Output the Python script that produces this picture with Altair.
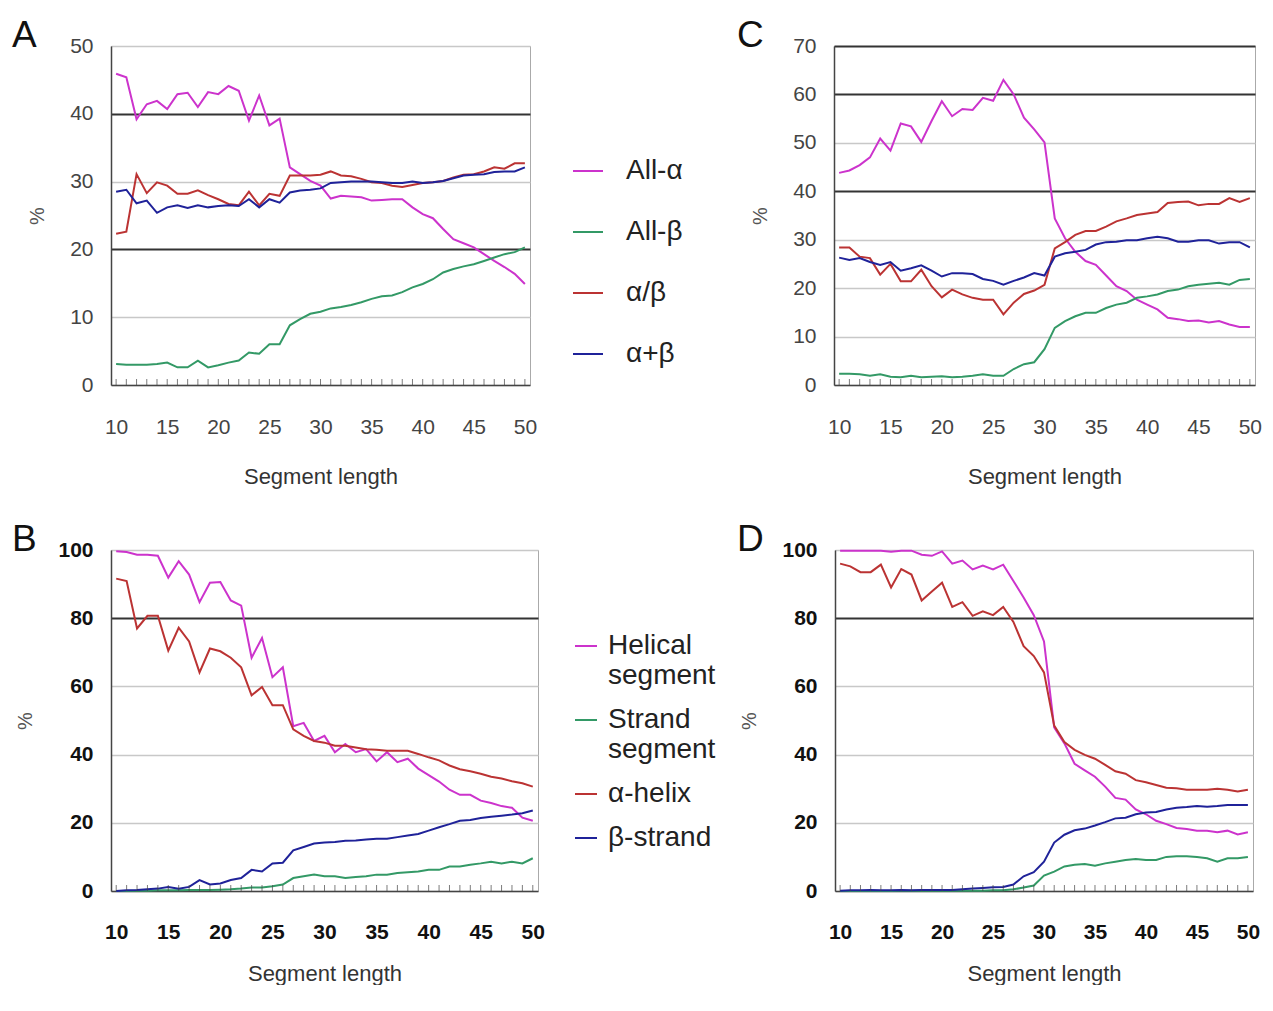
import altair as alt
import pandas as pd

lengths = list(range(10, 51))
tick_positions = list(range(10, 51))
x_labels = [10, 15, 20, 25, 30, 35, 40, 45, 50]

# ---------------- Panel A ----------------
a_names = ["All-α", "All-β", "α/β", "α+β"]
a_all_alpha = [45.9, 45.4, 39.2, 41.4, 41.9, 40.7, 42.9, 43.1, 41.0, 43.2, 42.9, 44.1, 43.4, 39.0,
               42.7, 38.3, 39.3, 32.1, 31.1, 30.1, 29.4, 27.5, 27.9, 27.8, 27.7, 27.2, 27.3, 27.4,
               27.4, 26.2, 25.2, 24.6, 23.0, 21.5, 20.9, 20.3, 19.3, 18.3, 17.4, 16.4, 14.9]
a_all_beta = [3.1, 3.0, 3.0, 3.0, 3.1, 3.3, 2.6, 2.6, 3.6, 2.6, 2.9, 3.3, 3.6, 4.8, 4.6, 6.0, 6.0,
              8.8, 9.7, 10.5, 10.8, 11.3, 11.5, 11.8, 12.2, 12.7, 13.1, 13.2, 13.7, 14.4, 14.9, 15.6,
              16.6, 17.1, 17.5, 17.8, 18.3, 18.8, 19.3, 19.6, 20.3]
a_alpha_beta = [22.3, 22.6, 31.1, 28.3, 29.9, 29.4, 28.2, 28.2, 28.7, 28.0, 27.4, 26.7, 26.5, 28.5,
                26.5, 28.2, 27.9, 30.9, 30.9, 30.9, 31.0, 31.5, 30.9, 30.8, 30.4, 29.9, 29.8, 29.4,
                29.2, 29.5, 29.8, 29.9, 30.1, 30.6, 31.0, 31.1, 31.5, 32.1, 31.9, 32.7, 32.7]
a_alpha_plus_beta = [28.5, 28.8, 26.8, 27.2, 25.4, 26.2, 26.5, 26.1, 26.5, 26.2, 26.4, 26.5, 26.4,
                     27.4, 26.2, 27.4, 26.9, 28.4, 28.7, 28.8, 29.0, 29.8, 29.9, 30.0, 30.0, 30.0,
                     29.9, 29.8, 29.8, 30.0, 29.8, 29.9, 30.1, 30.5, 30.9, 31.0, 31.1, 31.4, 31.5,
                     31.5, 32.1]

# ---------------- Panel C ----------------
c_all_alpha = [43.8, 44.3, 45.4, 47.0, 50.9, 48.4, 54.0, 53.4, 50.2, 54.5, 58.6, 55.5, 57.0, 56.8,
               59.3, 58.7, 63.0, 60.0, 55.2, 52.8, 50.1, 34.4, 30.3, 27.5, 25.6, 24.8, 22.6, 20.4,
               19.4, 17.6, 16.6, 15.6, 13.9, 13.6, 13.2, 13.3, 12.9, 13.2, 12.5, 12.0, 12.0]
c_all_beta = [2.3, 2.3, 2.2, 1.9, 2.2, 1.7, 1.6, 1.9, 1.6, 1.7, 1.8, 1.6, 1.7, 1.9, 2.2, 1.9, 1.9,
              3.3, 4.3, 4.7, 7.4, 11.8, 13.2, 14.2, 14.9, 14.9, 15.9, 16.6, 17.0, 18.0, 18.3, 18.7,
              19.4, 19.7, 20.4, 20.7, 20.9, 21.1, 20.7, 21.7, 21.9]
c_alpha_beta = [28.4, 28.4, 26.5, 26.2, 22.8, 25.0, 21.4, 21.4, 23.8, 20.4, 18.1, 19.7, 18.7, 18.0,
                17.6, 17.6, 14.6, 17.0, 18.8, 19.5, 20.7, 28.2, 29.5, 31.0, 31.8, 31.8, 32.7, 33.8,
                34.4, 35.1, 35.4, 35.7, 37.6, 37.8, 37.9, 37.1, 37.4, 37.4, 38.6, 37.8, 38.6]
c_alpha_plus_beta = [26.3, 25.8, 26.2, 25.4, 24.8, 25.4, 23.6, 24.1, 24.7, 23.6, 22.4, 23.1, 23.1,
                     22.9, 21.9, 21.5, 20.7, 21.5, 22.2, 23.1, 22.6, 26.5, 27.2, 27.5, 27.9, 29.0,
                     29.5, 29.6, 29.9, 29.9, 30.3, 30.6, 30.3, 29.6, 29.6, 29.9, 29.9, 29.2, 29.5,
                     29.5, 28.4]

# ---------------- Panel B ----------------
b_names = ["Helical segment", "Strand segment", "α-helix", "β-strand"]
b_helical = [99.6, 99.4, 98.6, 98.6, 98.3, 91.9, 96.7, 92.8, 84.7, 90.4, 90.6, 85.2, 83.7, 68.4,
             74.2, 62.7, 65.6, 48.3, 49.3, 44.0, 45.5, 40.7, 43.1, 40.7, 41.6, 38.0, 40.7, 37.8,
             38.8, 35.9, 34.0, 32.1, 29.7, 28.2, 28.2, 26.5, 25.8, 24.9, 24.4, 21.5, 20.6]
b_strand = [0.0, 0.0, 0.1, 0.1, 0.2, 0.2, 0.2, 0.3, 0.3, 0.3, 0.4, 0.5, 0.7, 1.0, 1.0, 1.4, 1.9,
            3.8, 4.3, 4.8, 4.3, 4.3, 3.8, 4.1, 4.3, 4.8, 4.8, 5.3, 5.5, 5.7, 6.2, 6.2, 7.2, 7.2,
            7.7, 8.1, 8.6, 8.1, 8.6, 8.1, 9.6]
b_alpha_helix = [91.6, 90.9, 77.0, 80.7, 80.7, 70.5, 77.2, 73.2, 64.1, 71.1, 70.3, 68.4, 65.6,
                 57.4, 59.8, 54.5, 54.5, 47.4, 45.5, 44.0, 43.5, 42.6, 42.6, 42.1, 41.6, 41.4,
                 41.1, 41.1, 41.1, 40.2, 39.2, 38.3, 36.8, 35.7, 35.1, 34.4, 33.5, 33.0, 32.2,
                 31.6, 30.6]
b_beta_strand = [0.0, 0.2, 0.3, 0.5, 0.7, 1.2, 0.7, 1.2, 3.2, 1.9, 2.2, 3.2, 3.8, 6.2, 5.7, 8.1,
                 8.3, 11.9, 12.9, 13.9, 14.2, 14.4, 14.7, 14.8, 15.1, 15.3, 15.3, 15.8, 16.3, 16.7,
                 17.7, 18.7, 19.6, 20.6, 20.8, 21.4, 21.8, 22.1, 22.4, 22.8, 23.6]

# ---------------- Panel D ----------------
d_helical = [99.8, 99.8, 99.8, 99.8, 99.8, 99.5, 99.8, 99.8, 98.6, 98.3, 99.6, 96.0, 96.9, 94.3,
             95.4, 94.3, 95.7, 90.9, 86.1, 80.9, 73.2, 48.0, 43.3, 37.3, 35.4, 33.5, 30.6, 27.3,
             26.8, 23.9, 22.5, 20.6, 19.6, 18.5, 18.2, 17.7, 17.7, 17.2, 17.7, 16.6, 17.2]
d_strand = [0.0, 0.0, 0.0, 0.0, 0.0, 0.0, 0.1, 0.1, 0.1, 0.1, 0.1, 0.1, 0.1, 0.1, 0.1, 0.2, 0.2,
            0.5, 1.0, 1.6, 4.5, 5.7, 7.2, 7.7, 7.9, 7.4, 8.1, 8.6, 9.1, 9.4, 9.1, 9.1, 10.0, 10.2,
            10.2, 10.0, 9.6, 8.6, 9.6, 9.6, 10.0]
d_alpha_helix = [96.0, 95.2, 93.5, 93.5, 95.7, 89.0, 94.4, 92.8, 85.2, 87.8, 90.4, 83.3, 84.7,
                 80.7, 82.0, 80.9, 83.3, 78.9, 71.8, 68.9, 64.1, 48.5, 43.7, 41.4, 39.9, 38.8,
                 37.0, 35.1, 34.4, 32.5, 31.9, 31.1, 30.3, 30.1, 29.7, 29.7, 29.7, 30.0, 29.7,
                 29.2, 29.7]
d_beta_strand = [0.1, 0.2, 0.2, 0.3, 0.2, 0.2, 0.3, 0.2, 0.3, 0.3, 0.3, 0.3, 0.5, 0.7, 0.9, 1.1,
                 1.2, 1.9, 4.3, 5.5, 8.6, 14.2, 16.5, 17.8, 18.3, 19.2, 20.2, 21.3, 21.5, 22.5,
                 23.0, 23.2, 23.9, 24.4, 24.6, 24.9, 24.7, 24.9, 25.2, 25.2, 25.2]

colors = ["#cc33cc", "#339966", "#bb3333", "#1f2299"]

FONT = "Liberation Sans"


def long_df(names, series):
    rows = []
    for name, vals in zip(names, series):
        for L, v in zip(lengths, vals):
            rows.append({"len": L, "val": v, "series": name})
    return pd.DataFrame(rows)


def panel(df, names, ydomain, yvalues, dark, width, height, letter, letter_x,
          legend, bold, label_pad, title_pad):
    weight = "bold" if bold else "normal"
    lab_color = "#111111" if bold else "#444444"
    test = " || ".join(f"datum.value == {d}" for d in dark)
    x_enc = alt.X(
        "len:Q",
        scale=alt.Scale(domain=[9.5, 50.5], nice=False, zero=False),
        axis=alt.Axis(values=x_labels, ticks=False, grid=False, labelPadding=label_pad,
                      labelFontSize=21, labelFont=FONT, labelColor=lab_color,
                      labelFontWeight=weight, title="Segment length",
                      titleFont=FONT, titleFontSize=22, titleFontWeight="normal",
                      titleColor="#333333", titlePadding=title_pad,
                      domainColor="#444444", domainWidth=1.5),
    )
    y_enc = alt.Y(
        "val:Q",
        scale=alt.Scale(domain=ydomain, nice=False, zero=True),
        axis=alt.Axis(values=yvalues, ticks=False, labelPadding=18,
                      labelFontSize=21, labelFont=FONT, labelColor=lab_color,
                      labelFontWeight=weight, title="%", titleFont=FONT,
                      titleFontSize=20, titleFontWeight="normal", titleColor="#555555",
                      titlePadding=22, domainColor="#444444", domainWidth=1.5,
                      gridColor={"condition": {"test": test, "value": "#333333"},
                                 "value": "#c8c8c8"},
                      gridWidth={"condition": {"test": test, "value": 2},
                                 "value": 1.5}),
    )
    color_enc = alt.Color(
        "series:N",
        sort=names,
        scale=alt.Scale(domain=names, range=colors),
        legend=legend,
    )
    lines = alt.Chart(df).mark_line(strokeWidth=2).encode(
        x=x_enc, y=y_enc, color=color_enc
    )
    ticks = alt.Chart(pd.DataFrame({"len": tick_positions})).mark_tick(
        color="#444444", thickness=1, size=6
    ).encode(x=x_enc, y=alt.value(height - 3))
    lett = alt.Chart(pd.DataFrame({"t": [letter]})).mark_text(
        fontSize=37, font=FONT, align="left", baseline="alphabetic", color="#111111"
    ).encode(text="t:N", x=alt.value(letter_x), y=alt.value(1))
    return alt.layer(lines, ticks, lett).properties(width=width, height=height)


legend_top = alt.Legend(
    title=None, orient="none", legendX=440, legendY=88, symbolType="stroke",
    symbolSize=900, symbolStrokeWidth=2, labelFontSize=28, labelFont=FONT,
    labelColor="#222222", labelOffset=22, rowPadding=31, padding=21,
)
legend_bottom = alt.Legend(
    title=None, orient="none", legendX=458, legendY=79, symbolType="stroke",
    symbolSize=484, symbolStrokeWidth=2, labelFontSize=28, labelFont=FONT,
    labelColor="#222222", labelOffset=8, rowPadding=16, padding=3,
    labelExpr="indexof(datum.label, ' ') > 0 ? split(datum.label, ' ') : datum.label",
    labelLimit=300,
)

dfA = long_df(a_names, [a_all_alpha, a_all_beta, a_alpha_beta, a_alpha_plus_beta])
dfC = long_df(a_names, [c_all_alpha, c_all_beta, c_alpha_beta, c_alpha_plus_beta])
dfB = long_df(b_names, [b_helical, b_strand, b_alpha_helix, b_beta_strand])
dfD = long_df(b_names, [d_helical, d_strand, d_alpha_helix, d_beta_strand])

pA = panel(dfA, a_names, [0, 50], [0, 10, 20, 30, 40, 50], [20, 40], 419, 339,
           "A", -99, legend_top, False, 31, 29)
pC = panel(dfC, a_names, [0, 70], [0, 10, 20, 30, 40, 50, 60, 70], [40, 60, 70], 421, 339,
           "C", -97, None, False, 31, 29)
pB = panel(dfB, b_names, [0, 100], [0, 20, 40, 60, 80, 100], [80], 427, 341,
           "B", -99, legend_bottom, True, 30, 21)
pD = panel(dfD, b_names, [0, 100], [0, 20, 40, 60, 80, 100], [80], 418, 341,
           "D", -98, None, True, 30, 21)

chart = alt.concat(
    pA, pC, pB, pD, columns=2, align="none", spacing={"row": 32, "column": 16}
).resolve_scale(
    color="independent", x="independent", y="independent"
).properties(
    padding={"left": 3, "top": 8, "right": 0, "bottom": 0},
    background="white",
).configure_view(stroke="#aaaaaa", strokeWidth=1)

chart.save("out.html", embed_options={"renderer": "svg", "actions": False})
